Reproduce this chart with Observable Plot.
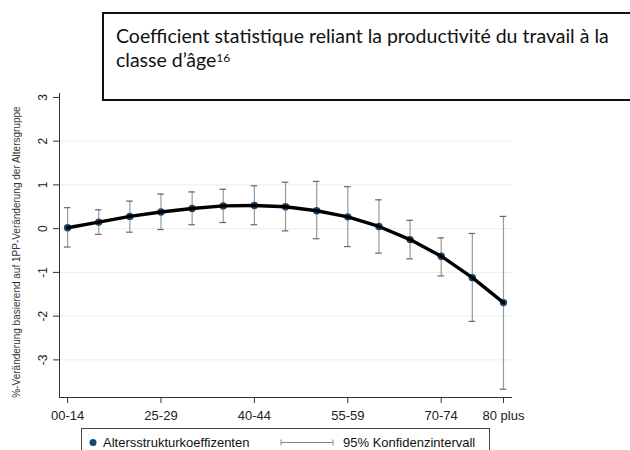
<!DOCTYPE html>
<html><head><meta charset="utf-8">
<script src="https://cdn.jsdelivr.net/npm/d3@7"></script>
<script src="https://cdn.jsdelivr.net/npm/@observablehq/plot@0.6"></script>
<style>
body{margin:0;background:#fff;}
#wrap{position:relative;width:630px;height:450px;overflow:hidden;font-family:"Liberation Sans",Arial,sans-serif;background:#fff;}
#chart{position:absolute;left:0;top:0;}
#title{position:absolute;left:102px;top:12px;width:560px;height:89px;border:2px solid #111;border-right:none;background:#fff;box-sizing:border-box;}
#title svg{position:absolute;left:0;top:0;overflow:visible;}
#legend{position:absolute;left:81px;top:428px;width:409px;height:34px;border:1px solid #444;box-sizing:border-box;background:#fff;}
#legend svg{position:absolute;left:0;top:0;}
</style></head>
<body>
<div id="wrap">
  <div id="chart"></div>
  <div id="title"></div>
  <div id="legend"></div>
</div>
<script>
const ageGroups = ["00-14","15-19","20-24","25-29","30-34","35-39","40-44","45-49","50-54","55-59","60-64","65-69","70-74","75-79","80 plus"];
const coef   = [0.02, 0.15, 0.28, 0.38, 0.46, 0.52, 0.53, 0.50, 0.41, 0.27, 0.05, -0.25, -0.63, -1.12, -1.69];
const ciLow  = [-0.42, -0.13, -0.08, -0.02, 0.09, 0.14, 0.09, -0.05, -0.23, -0.41, -0.56, -0.69, -1.08, -2.12, -3.67];
const ciHigh = [0.48, 0.43, 0.63, 0.79, 0.84, 0.90, 0.98, 1.06, 1.08, 0.96, 0.66, 0.19, -0.21, -0.11, 0.28];
const tickAges = ["00-14","25-29","40-44","55-59","70-74","80 plus"];
const yTicks = [-3,-2,-1,0,1,2,3];
const gridValues = [-3,-2,-1,0,1,2];
const titleLine1 = "Coefficient statistique reliant la productivité du travail à la";
const titleLine2 = "classe d’âge";
const titleSup = "16";
const yTitle = "%-Veränderung basierend auf 1PP-Veränderung der Altersgruppe";
const legendLabels = ["Altersstrukturkoeffizenten", "95% Konfidenzintervall"];

const data = ageGroups.map((a, i) => ({i, age: a, coef: coef[i], lo: ciLow[i], hi: ciHigh[i]}));
const xDomain = [-0.26, 14.29];
const yDomain = [-3.86, 3.09];
const navy = "#1a476f";
const ciColor = "#9a9a9a";

const plot = Plot.plot({
  width: 630, height: 450,
  marginLeft: 59, marginRight: 118, marginTop: 93, marginBottom: 53,
  x: {type: "linear", domain: xDomain, axis: null},
  y: {type: "linear", domain: yDomain, axis: null},
  style: {fontFamily: "Liberation Sans, Arial, sans-serif", background: "white", color: "#222"},
  marks: [
    Plot.ruleY(gridValues, {stroke: "#e6f0f1", strokeWidth: 1}),
    Plot.ruleX(data, {x: "i", y1: "lo", y2: "hi", stroke: ciColor, strokeWidth: 1.2}),
    Plot.ruleY(data, {y: "lo", x1: d => d.i - 0.105, x2: d => d.i + 0.105, stroke: "#666", strokeWidth: 1.2}),
    Plot.ruleY(data, {y: "hi", x1: d => d.i - 0.105, x2: d => d.i + 0.105, stroke: "#666", strokeWidth: 1.2}),
    Plot.dot(data, {x: "i", y: "coef", fill: navy, r: 3.7}),
    Plot.line(data, {x: "i", y: "coef", stroke: "#000", strokeWidth: 3.4}),
    Plot.ruleX([xDomain[0]], {stroke: "#333", strokeWidth: 1}),
    Plot.ruleY([yDomain[0]], {stroke: "#333", strokeWidth: 1}),
    Plot.axisX(tickAges.map(a => ageGroups.indexOf(a)), {tickFormat: i => ageGroups[i], tickSize: 6, tickPadding: 7, fontSize: 13, stroke: "#333", label: null}),
    Plot.axisY(yTicks, {tickSize: 6, tickFormat: () => "", label: null, stroke: "#333"}),
    Plot.text(yTicks, {x: xDomain[0], y: d => d, text: d => String(d), rotate: -90, dx: -16, fontSize: 12, fill: "#222"}),
    Plot.text([yTitle], {frameAnchor: "left", rotate: -90, dx: -43, dy: 6.5, fontSize: 10, fill: "#333", textAnchor: "middle"})
  ]
});
document.getElementById("chart").appendChild(plot);

// title box text (Calibri-like look: Lato, horizontally condensed to the measured line width)
const fs = 19.5;
const ctx = document.createElement("canvas").getContext("2d");
ctx.font = `${fs}px Lato`;
const natural = ctx.measureText(titleLine1).width;
const sx = Math.min(1, 502 / natural);
const ts = d3.select("#title").append("svg").attr("width", 540).attr("height", 85);
const g = ts.append("g").attr("transform", `translate(12,0) scale(${sx},1)`)
  .attr("font-family", "Lato, 'Open Sans', sans-serif").attr("font-size", fs).attr("fill", "#111");
g.append("text").attr("x", 0).attr("y", 29.3).text(titleLine1);
const t2 = g.append("text").attr("x", 0).attr("y", 52.7);
t2.append("tspan").text(titleLine2);
t2.append("tspan").attr("font-size", 12).attr("dy", -4.5).text(titleSup);

// legend
const lg = d3.select("#legend").append("svg").attr("width", 409).attr("height", 34);
lg.append("circle").attr("cx", 11).attr("cy", 13.5).attr("r", 3.5).attr("fill", navy);
lg.append("text").attr("x", 21).attr("y", 18).attr("font-size", 13).attr("fill", "#111")
  .attr("font-family", "Liberation Sans, Arial, sans-serif").text(legendLabels[0]);
lg.append("line").attr("x1", 199).attr("x2", 251).attr("y1", 13.5).attr("y2", 13.5).attr("stroke", "#888");
lg.append("line").attr("x1", 199).attr("x2", 199).attr("y1", 10.5).attr("y2", 16.5).attr("stroke", "#888");
lg.append("line").attr("x1", 251).attr("x2", 251).attr("y1", 10.5).attr("y2", 16.5).attr("stroke", "#888");
lg.append("text").attr("x", 261).attr("y", 18).attr("font-size", 13).attr("fill", "#111")
  .attr("font-family", "Liberation Sans, Arial, sans-serif").text(legendLabels[1]);
</script>
</body></html>
